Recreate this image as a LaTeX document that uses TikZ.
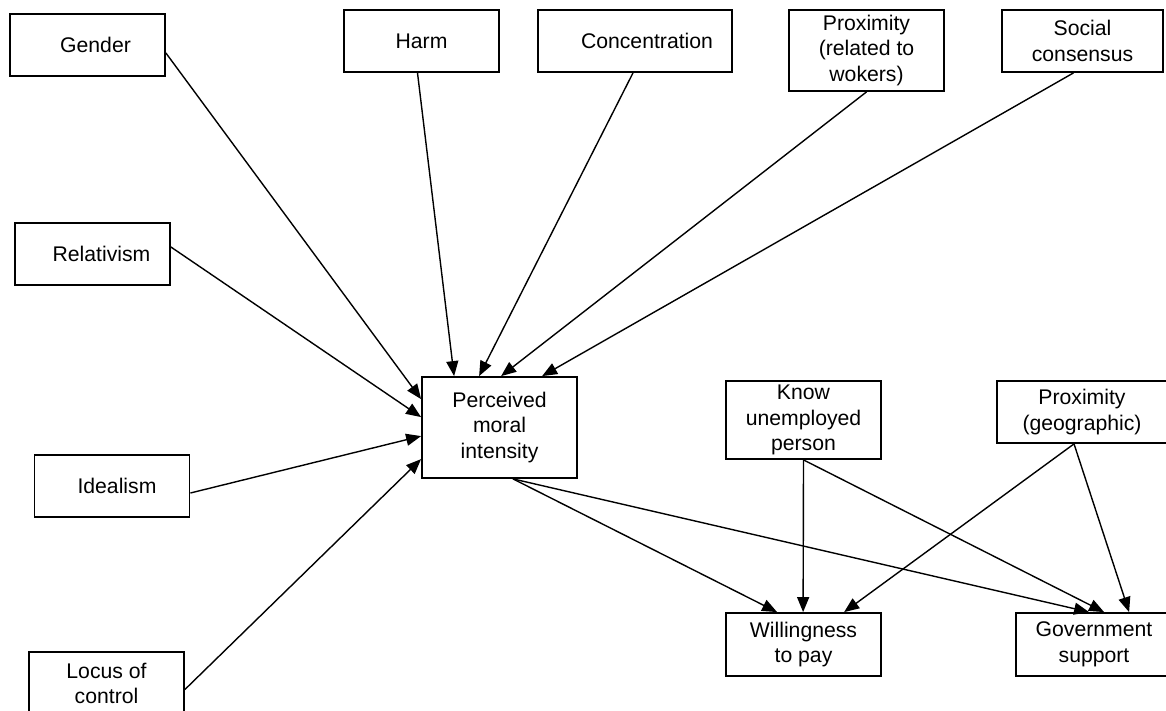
\documentclass[tikz,border=0pt]{standalone}
\usepackage{fontspec}
\setmainfont{Liberation Sans}
\usetikzlibrary{positioning, calc, arrows.meta}

\begin{document}
\begin{tikzpicture}[
  x=0.5pt, y=-0.5pt,
  factor/.style={rectangle, draw, line width=0.9pt, inner sep=0pt, align=center,
    minimum width=77.5pt, minimum height=31pt,
    font=\fontsize{10.6}{12.8}\selectfont},
  link/.style={line width=0.7pt, -{Triangle[length=7.5pt, width=6pt]}}
]
\useasboundingbox (0,0) rectangle (1166,711);

% -------------------------
% ANTECEDENTS (top row)
% -------------------------

\node[factor] (gender) at (87.5,45) {\hspace*{8pt}Gender};
\node[factor] (harm) at (421.5,41) {Harm};
\node[factor, minimum width=97pt] (conc) at (635,41) {\hspace*{12pt}Concentration};
\node[factor, minimum height=40.5pt] (proxw) at (866.5,50.5) {Proximity\\(related to\\wokers)};
\node[factor, minimum width=80.5pt] (social) at (1082.5,41) {Social\\consensus};

% left column
\node[factor] (relat) at (92.5,254) {\hspace*{9pt}Relativism};
\node[factor] (ideal) at (112,486) {\hspace*{5pt}Idealism};
\node[factor, minimum height=31.5pt] (locus) at (106.5,683.5) {Locus of\\control};

% -------------------------
% MEDIATOR AND OUTCOMES
% -------------------------

\node[factor, minimum height=50.5pt] (pmi) at (499.5,427.5) {Perceived\\moral\\intensity};
\node[factor, minimum height=39pt] (know) at (803.5,420) {Know\\unemployed\\person};
\node[factor, minimum width=85pt] (proxg) at (1082,412) {Proximity\\(geographic)};

\node[factor, minimum height=31.5pt] (wtp) at (803.5,644.5) {Willingness\\to pay};
\node[factor, minimum width=78pt, minimum height=31.5pt] (gov) at (1094,644.5) {Government\\support};

% -------------------------
% PATHS INTO PERCEIVED MORAL INTENSITY
% -------------------------

\draw[link] ($(gender.east)+(0,8)$) -- ($(pmi.north west)+(0,23)$);
\draw[link] ($(relat.east)+(0,-7)$) -- ($(pmi.north west)+(0,41)$);
\draw[link] ($(ideal.east)+(0,7)$) -- ($(pmi.north west)+(0,60)$);
\draw[link] ($(locus.east)+(0,6)$) -- ($(pmi.north west)+(0,83)$);

\draw[link] ($(harm.south)+(-4,0)$) -- ($(pmi.north west)+(33,0)$);
\draw[link] ($(conc.south)+(-2,0)$) -- ($(pmi.north west)+(58,0)$);
\draw[link] (proxw.south) -- ($(pmi.north west)+(80,0)$);
\draw[link] ($(social.south)+(-9,0)$) -- ($(pmi.north west)+(121,0)$);

% -------------------------
% PATHS INTO OUTCOMES
% -------------------------

\draw[link] ($(pmi.south)+(13.5,0)$) -- ($(wtp.north west)+(52,0)$);
\draw[link] ($(pmi.south)+(13.5,0)$) -- ($(gov.north west)+(74,0)$);

\draw[link] (know.south) -- ($(wtp.north west)+(78,0)$);
\draw[link] (know.south) -- ($(gov.north west)+(89,0)$);

\draw[link] ($(proxg.south)+(-8,0)$) -- ($(wtp.north west)+(119,0)$);
\draw[link] ($(proxg.south)+(-8,0)$) -- ($(gov.north west)+(114,0)$);

\end{tikzpicture}
\end{document}
